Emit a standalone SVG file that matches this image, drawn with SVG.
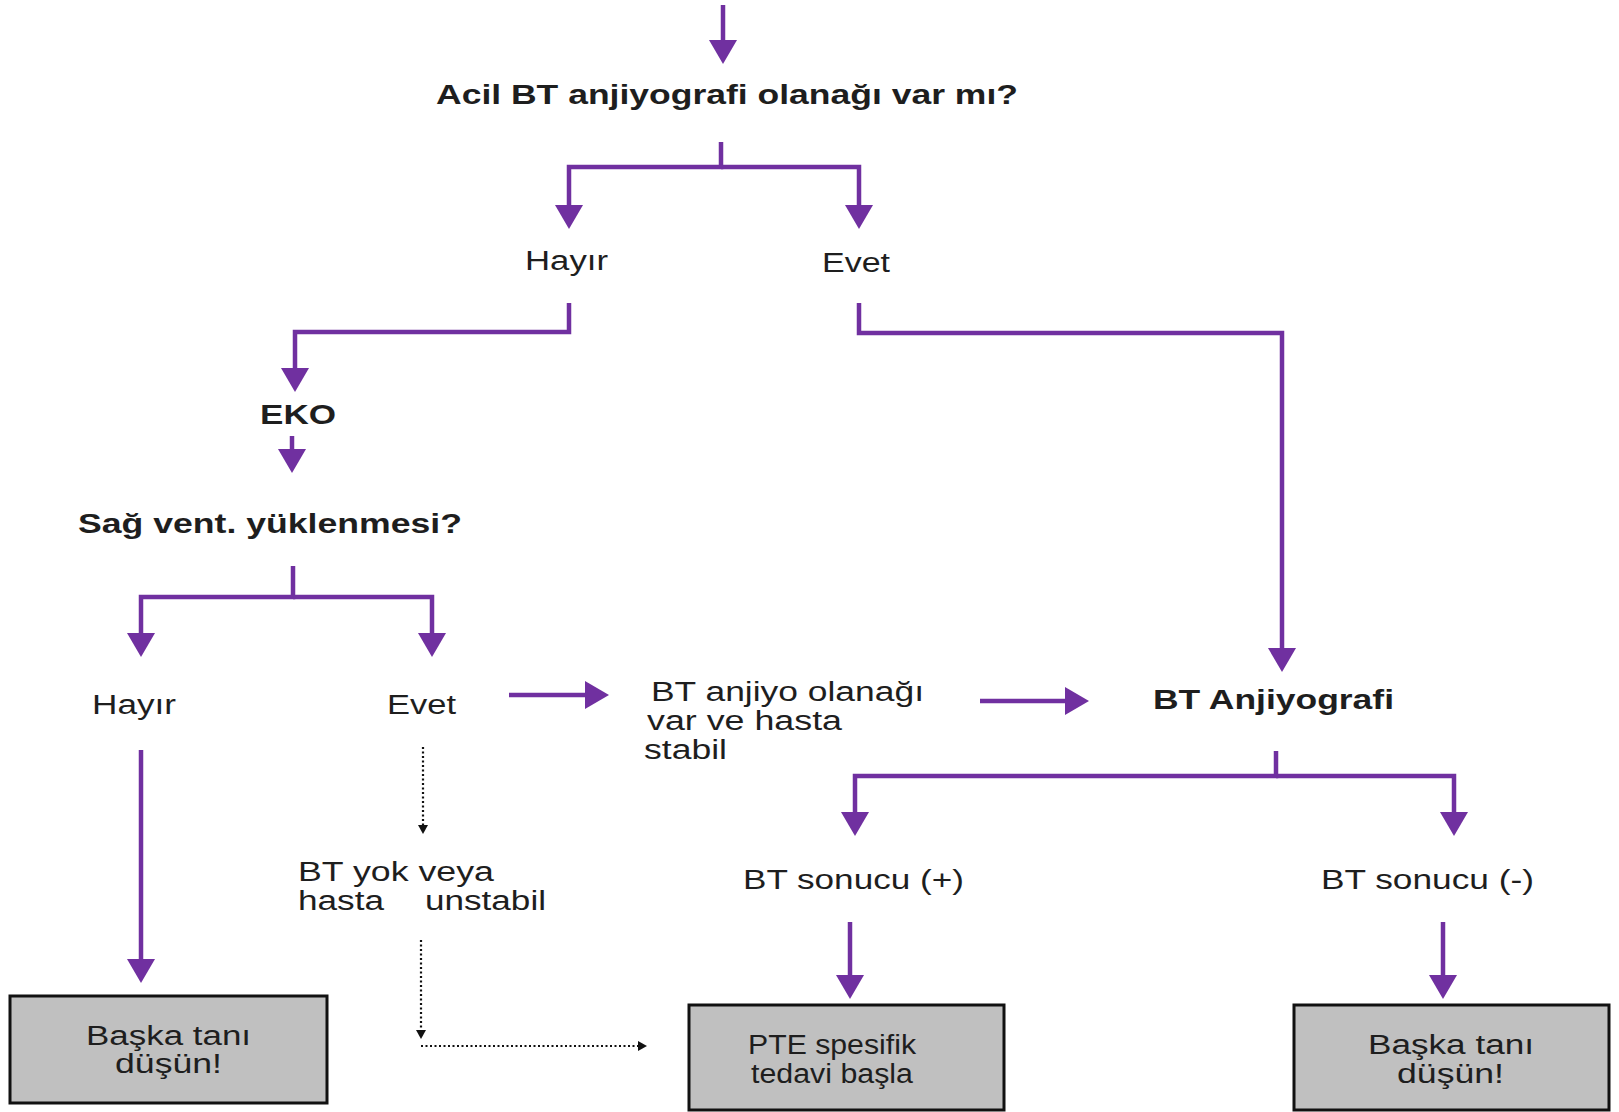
<svg xmlns="http://www.w3.org/2000/svg" width="1619" height="1112" viewBox="0 0 1619 1112">
<style>
.t{font-family:"Liberation Sans",Arial,sans-serif;font-size:27px;fill:#1e1e1e}
.b{font-weight:bold}
.c{fill:none;stroke:#7030a0;stroke-width:4.5}
.d{fill:none;stroke:#111;stroke-width:2.2;stroke-dasharray:2 2.5}
.box{fill:#c0c0c0;stroke:#111;stroke-width:3}
</style>
<defs>
<marker id="ah" markerUnits="userSpaceOnUse" markerWidth="26" markerHeight="28" refX="2" refY="14" orient="auto" viewBox="0 0 24 28">
<path d="M0,0 L24,14 L0,28 z" fill="#7030a0"/>
</marker>
<marker id="sh" markerUnits="userSpaceOnUse" markerWidth="10" markerHeight="10" refX="1" refY="5" orient="auto" viewBox="0 0 9 10">
<path d="M0,0 L9,5 L0,10 z" fill="#111"/>
</marker>
</defs>
<rect width="1619" height="1112" fill="#fff"/>
<g id="connectors">
<path class="c" d="M723,5 V42" marker-end="url(#ah)"/>
<path class="c" d="M721,142 V167 H569 V207" marker-end="url(#ah)"/>
<path class="c" d="M721,167 H859 V207" marker-end="url(#ah)"/>
<path class="c" d="M569,303 V332 H295 V370" marker-end="url(#ah)"/>
<path class="c" d="M859,303 V333 H1282 V650" marker-end="url(#ah)"/>
<path class="c" d="M292,436 V451" marker-end="url(#ah)"/>
<path class="c" d="M293,566 V597 H141 V635" marker-end="url(#ah)"/>
<path class="c" d="M293,597 H432 V635" marker-end="url(#ah)"/>
<path class="c" d="M141,750 V961" marker-end="url(#ah)"/>
<path class="c" d="M509,695 H587" marker-end="url(#ah)"/>
<path class="c" d="M980,701 H1067" marker-end="url(#ah)"/>
<path class="c" d="M1276,751 V776 H855 V814" marker-end="url(#ah)"/>
<path class="c" d="M1276,776 H1454 V814" marker-end="url(#ah)"/>
<path class="c" d="M850,922 V977" marker-end="url(#ah)"/>
<path class="c" d="M1443,922 V977" marker-end="url(#ah)"/>
<path class="d" d="M423,747 V826" marker-end="url(#sh)"/>
<path class="d" d="M421,940 V1031" marker-end="url(#sh)"/>
<path class="d" d="M421,1046 H639" marker-end="url(#sh)"/>
</g>
<g id="n-title"><text class="t b" x="436" y="104" textLength="582" lengthAdjust="spacingAndGlyphs">Acil BT anjiyografi olanağı var mı?</text></g>
<g id="n-hayir1"><text class="t" x="525" y="270" textLength="83" lengthAdjust="spacingAndGlyphs">Hayır</text></g>
<g id="n-evet1"><text class="t" x="822" y="272" textLength="68" lengthAdjust="spacingAndGlyphs">Evet</text></g>
<g id="n-eko"><text class="t b" x="260" y="424" textLength="76" lengthAdjust="spacingAndGlyphs">EKO</text></g>
<g id="n-sag"><text class="t b" x="78" y="533" textLength="384" lengthAdjust="spacingAndGlyphs">Sağ vent. yüklenmesi?</text></g>
<g id="n-hayir2"><text class="t" x="92" y="714" textLength="84" lengthAdjust="spacingAndGlyphs">Hayır</text></g>
<g id="n-evet2"><text class="t" x="387" y="714" textLength="69" lengthAdjust="spacingAndGlyphs">Evet</text></g>
<g id="n-stabil">
<text class="t" x="651" y="701" textLength="273" lengthAdjust="spacingAndGlyphs">BT anjiyo olanağı</text>
<text class="t" x="647" y="730" textLength="195" lengthAdjust="spacingAndGlyphs">var ve hasta</text>
<text class="t" x="644" y="759" textLength="83" lengthAdjust="spacingAndGlyphs">stabil</text>
</g>
<g id="n-btanj"><text class="t b" x="1153" y="709" textLength="241" lengthAdjust="spacingAndGlyphs">BT Anjiyografi</text></g>
<g id="n-btpos"><text class="t" x="743" y="889" textLength="221" lengthAdjust="spacingAndGlyphs">BT sonucu (+)</text></g>
<g id="n-btneg"><text class="t" x="1321" y="889" textLength="213" lengthAdjust="spacingAndGlyphs">BT sonucu (-)</text></g>
<g id="n-unstabil">
<text class="t" x="298" y="881" textLength="196" lengthAdjust="spacingAndGlyphs">BT yok veya</text>
<text class="t" x="298" y="910" textLength="86" lengthAdjust="spacingAndGlyphs">hasta</text>
<text class="t" x="425" y="910" textLength="121" lengthAdjust="spacingAndGlyphs">unstabil</text>
</g>
<g id="n-box1">
<rect class="box" x="10" y="996" width="317" height="107"/>
<text class="t" x="86" y="1045" textLength="165" lengthAdjust="spacingAndGlyphs">Başka tanı</text>
<text class="t" x="115" y="1073" textLength="107" lengthAdjust="spacingAndGlyphs">düşün!</text>
</g>
<g id="n-pte">
<rect class="box" x="689" y="1005" width="315" height="105"/>
<text class="t" x="748" y="1054" textLength="168" lengthAdjust="spacingAndGlyphs">PTE spesifik</text>
<text class="t" x="751" y="1083" textLength="162" lengthAdjust="spacingAndGlyphs">tedavi başla</text>
</g>
<g id="n-box3">
<rect class="box" x="1294" y="1005" width="315" height="105"/>
<text class="t" x="1368" y="1054" textLength="166" lengthAdjust="spacingAndGlyphs">Başka tanı</text>
<text class="t" x="1397" y="1083" textLength="107" lengthAdjust="spacingAndGlyphs">düşün!</text>
</g>
</svg>
